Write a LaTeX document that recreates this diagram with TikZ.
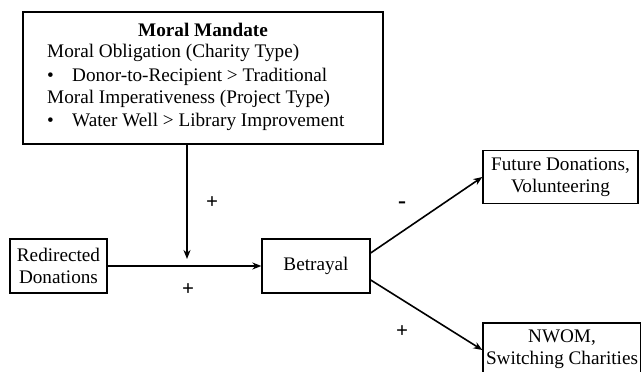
\documentclass[tikz,border=0pt]{standalone}
\usepackage{fontspec}
\setmainfont{Liberation Serif}
\usetikzlibrary{arrows.meta,calc}
\begin{document}
\begin{tikzpicture}[x=1pt,y=-1pt,
  every node/.style={font=\fontsize{19.2}{22}\selectfont, inner sep=0pt},
  box/.style={draw, line width=1.3pt, align=center},
  txt/.style={anchor=west},
  arr/.style={line width=1.6pt, -{Stealth[length=9pt,width=7pt]}},
  sign/.style={font=\fontsize{21}{22}\selectfont\bfseries}]
\useasboundingbox (0,0) rectangle (641,372);
% top box
\node[box, minimum width=360pt, minimum height=132pt] (mm) at (203,78) {};
\node (t0) at (203,30) {\textbf{Moral Mandate}};
\node[txt] (t1) at (47,53) {Moral Obligation (Charity Type)};
\node[txt] (t2) at (47,77) {\makebox[25pt][l]{\textbullet}Donor-to-Recipient > Traditional};
\node[txt] (t3) at (47,99) {Moral Imperativeness (Project Type)};
\node[txt] (t4) at (47,122) {\makebox[25pt][l]{\textbullet}Water Well > Library Improvement};
% other boxes
\node[box, minimum width=97pt, minimum height=54pt] (rd) at (58.5,266) {Redirected\\Donations};
\node[box, minimum width=108pt, minimum height=54pt] (bt) at (316,266) {Betrayal};
\node[box, minimum width=155pt, minimum height=53pt] (fut) at (560.5,177) {Future Donations,\\Volunteering};
\node[box, minimum width=158pt, minimum height=52pt] (nw) at (562,349) {NWOM,\\Switching Charities};
% connectors
\coordinate (j) at (187,259);
\draw[arr] (mm.south -| j) -- (j);
\draw[arr] (rd.east) -- (bt.west);
\draw[arr] ([yshift=13pt]bt.east) -- (fut.west);
\draw[arr] ([yshift=-14pt]bt.east) -- ([yshift=-1pt]nw.west);
% signs
\node[sign] (s1) at (212,203) {+};
\node[sign] (s2) at (188,290) {+};
\node[sign, font=\fontsize{24}{24}\selectfont\bfseries] (s3) at (402,205) {-};
\node[sign] (s4) at (402,332) {+};
\end{tikzpicture}
\end{document}
